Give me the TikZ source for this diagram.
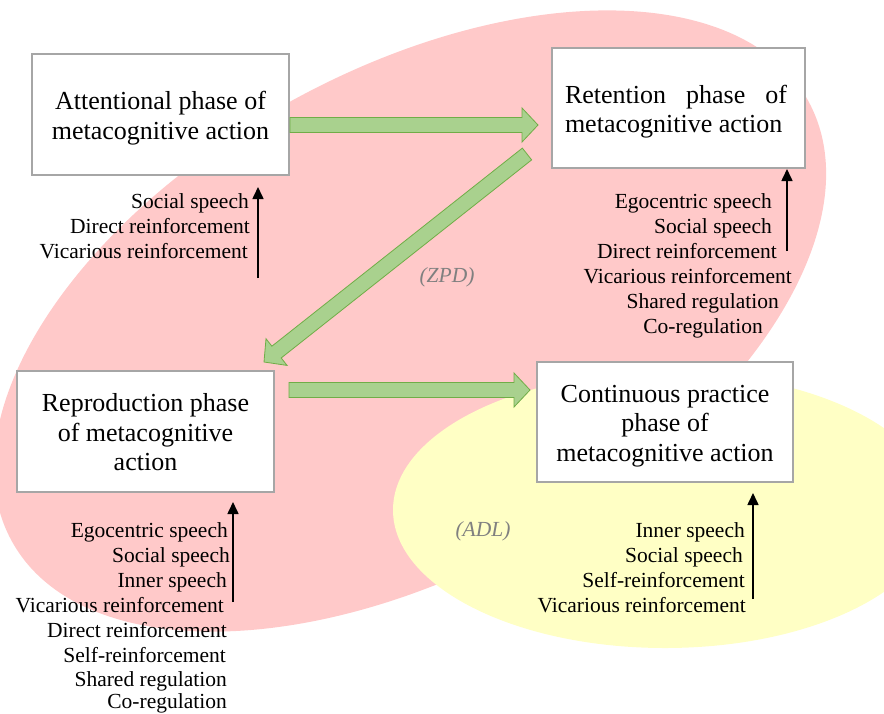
\documentclass[tikz,border=0pt]{standalone}
\usepackage{fontspec}
\setmainfont{Liberation Serif}
\usetikzlibrary{arrows.meta,calc}
\definecolor{pinkbg}{RGB}{255,201,201}
\definecolor{yellowbg}{RGB}{255,255,197}
\definecolor{gfill}{RGB}{169,209,142}
\definecolor{gdraw}{RGB}{112,173,71}
\definecolor{boxgray}{RGB}{166,166,166}
\definecolor{zgray}{RGB}{128,128,128}
\tikzset{
  phasebox/.style={draw=boxgray, line width=1.5pt, fill=white, inner sep=0pt,
    align=center, font=\fontsize{26}{29.5}\selectfont},
  lbl/.style={anchor=base east, inner sep=0pt, font=\fontsize{21.5}{25}\selectfont},
  zone/.style={inner sep=0pt, text=zgray, font=\fontsize{21.5}{25}\selectfont\itshape},
  fat/.style={fill=gfill, draw=gdraw, line width=0.8pt, line join=miter},
  up/.style={line width=1.6pt, -{Triangle[length=12pt,width=11pt]}}
}
\newcommand{\boxtext}[2]{\raisebox{-4pt}[\height][\depth]{\begin{tabular}{@{}#1@{}}#2\end{tabular}}}
\newcommand{\fatarrow}[3]{%
  \coordinate (#1h) at ($(#3)!16pt!(#2)$);
  \path[fat] ($(#2)!7.5pt!90:(#3)$) -- ($(#1h)!7.5pt!90:(#3)$) -- ($(#1h)!17pt!90:(#3)$)
    -- (#3) -- ($(#1h)!17pt!-90:(#3)$) -- ($(#1h)!7.5pt!-90:(#3)$) -- ($(#2)!7.5pt!-90:(#3)$) -- cycle;}
\begin{document}
\begin{tikzpicture}[x=1pt,y=-1pt]
\useasboundingbox (0,0) rectangle (884,713);
% zones
\fill[pinkbg, rotate around={29:(410,321)}] (410,321) ellipse [x radius=455, y radius=250];
\fill[yellowbg] (665,510) ellipse [x radius=272, y radius=138];
% boxes
\node[phasebox, minimum width=257pt, minimum height=121pt] (att) at (160.5,114.5)
  {\boxtext{c}{Attentional phase of\\metacognitive action}};
\node[phasebox, minimum width=253pt, minimum height=120pt] (ret) at (678.5,108)
  {\boxtext{l}{\makebox[222pt][s]{Retention phase of}\\metacognitive action}\hspace{5pt}};
\node[phasebox, minimum width=257pt, minimum height=121pt] (rep) at (145.5,431.5)
  {\boxtext{c}{Reproduction phase\\of metacognitive\\action}};
\node[phasebox, minimum width=256pt, minimum height=120pt] (con) at (665,422)
  {\boxtext{c}{Continuous practice\\phase of\\metacognitive action}};
% fat arrows
\coordinate (g1s) at (290,125); \coordinate (g1e) at (538,125);
\coordinate (g2s) at (527,154); \coordinate (g2e) at (264,362);
\coordinate (g3s) at (289,390); \coordinate (g3e) at (530,390);
\fatarrow{g1}{g1s}{g1e}
\fatarrow{g2}{g2s}{g2e}
\fatarrow{g3}{g3s}{g3e}
% zone labels
\node[zone] (zpd) at (447,277) {(ZPD)};
\node[zone] (adl) at (483,531) {(ADL)};
% attentional labels
\node[lbl] (a1) at (249,208) {Social speech};
\node[lbl] (a2) at (250,233) {Direct reinforcement};
\node[lbl] (a3) at (248,258) {Vicarious reinforcement};
\coordinate (attB) at (258,278); \coordinate (attT) at (258,187);
\draw[up] (attB) -- (attT);
% retention labels
\node[lbl] (r1) at (772,208) {Egocentric speech};
\node[lbl] (r2) at (772,233) {Social speech};
\node[lbl] (r3) at (777,258) {Direct reinforcement};
\node[lbl] (r4) at (792,283) {Vicarious reinforcement};
\node[lbl] (r5) at (779,308) {Shared regulation};
\node[lbl] (r6) at (763,333) {Co-regulation};
\coordinate (retB) at (787,251); \coordinate (retT) at (787,169);
\draw[up] (retB) -- (retT);
% reproduction labels
\node[lbl] (p1) at (228,537) {Egocentric speech};
\node[lbl] (p2) at (230,562) {Social speech};
\node[lbl] (p3) at (227,587) {Inner speech};
\node[lbl] (p4) at (224,612) {Vicarious reinforcement};
\node[lbl] (p5) at (227,637) {Direct reinforcement};
\node[lbl] (p6) at (226,662) {Self-reinforcement};
\node[lbl] (p7) at (227,686.5) {Shared regulation};
\node[lbl] (p8) at (227,708) {Co-regulation};
\coordinate (repB) at (233,602); \coordinate (repT) at (233,502);
\draw[up] (repB) -- (repT);
% continuous labels
\node[lbl] (c1) at (745,537) {Inner speech};
\node[lbl] (c2) at (743,562) {Social speech};
\node[lbl] (c3) at (745,587) {Self-reinforcement};
\node[lbl] (c4) at (746,612) {Vicarious reinforcement};
\coordinate (conB) at (753,599); \coordinate (conT) at (753,493);
\draw[up] (conB) -- (conT);
\end{tikzpicture}
\end{document}
